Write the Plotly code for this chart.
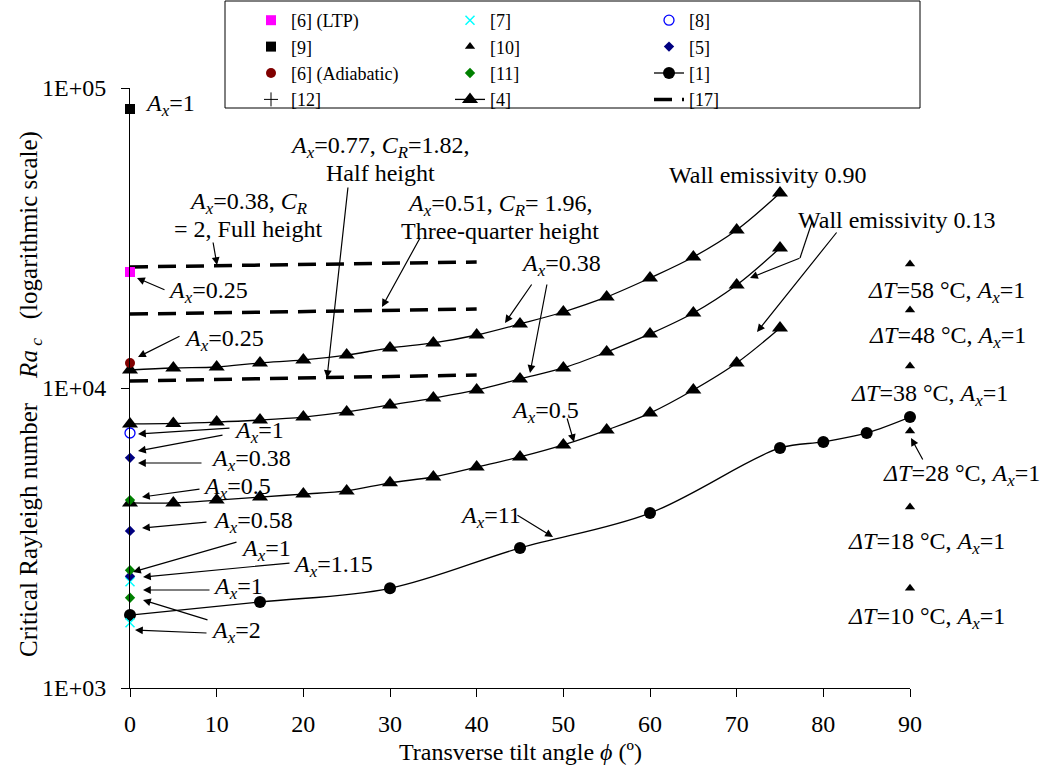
import plotly.graph_objects as go

# ---------------- data ----------------
angles_4 = [0, 5, 10, 15, 20, 25, 30, 35, 40, 45, 50, 55, 60, 65, 70, 75]
ra_4_eps090 = [11480, 11660, 11750, 12120, 12400, 12880, 13590, 14130, 15020, 16350,
               17920, 20110, 23260, 27330, 33630, 44670]
ra_4_eps013a = [7590, 7620, 7700, 7820, 8000, 8320, 8780, 9260, 9850, 10720,
                11660, 13180, 15140, 17780, 22050, 29290]
ra_4_eps013b = [4140, 4140, 4230, 4330, 4430, 4540, 4830, 5050, 5450, 5890,
                6460, 7240, 8250, 9850, 12120, 15850]

angles_1 = [0, 15, 30, 45, 60, 75, 80, 85, 90]
ra_1 = [1750, 1935, 2150, 2930, 3830, 6310, 6610, 7080, 8000]

angles_10 = [90, 90, 90, 90, 90, 90]
ra_10 = [25910, 18200, 11840, 7190, 4010, 2150]

ra_9 = [85110]
ra_6_ltp = [24360]
ra_6_adi = [12120]
ra_8 = [7080]
ra_5 = [5850, 3340, 2360]
ra_11 = [4230, 2470, 2000]
ra_7 = [2260, 1650]
ra_12 = [None]          # listed in the legend only, no visible point

angles_17 = [0, 40]
ra_17_full = [25320, 26300]
ra_17_threeq = [17640, 18330]
ra_17_half = [10550, 11050]

x_ticks = [0, 10, 20, 30, 40, 50, 60, 70, 80, 90]
y_ticks = [1000, 10000, 100000]
y_ticktext = ["1E+03", "1E+04", "1E+05"]

# ---------------- layout helpers ----------------
W, H = 1043, 775
ML, MR, MT, MB = 130, 133, 88, 87
PW, PH = W - ML - MR, H - MT - MB
FONT = "Liberation Serif"
FS = 24
FS_LEG = 18


def X(px):
    return (px - ML) / PW


def Y(py):
    return (H - MB - py) / PH


AX = "<i>A<sub>x</sub></i>"
CR = "<i>C<sub>R</sub></i>"

fig = go.Figure()

for i, ys in enumerate([ra_4_eps090, ra_4_eps013a, ra_4_eps013b]):
    fig.add_trace(go.Scatter(
        x=angles_4, y=ys, mode="lines+markers", name="[4]",
        line=dict(color="black", width=1.3, shape="spline"),
        marker=dict(symbol="triangle-up", size=14, color="black"),
        showlegend=(i == 0), legendrank=11, cliponaxis=False))

fig.add_trace(go.Scatter(
    x=angles_1, y=ra_1, mode="lines+markers", name="[1]",
    line=dict(color="black", width=1.3, shape="spline"),
    marker=dict(symbol="circle", size=12, color="black"),
    legendrank=9, cliponaxis=False))

for i, ys in enumerate([ra_17_full, ra_17_threeq, ra_17_half]):
    fig.add_trace(go.Scatter(
        x=angles_17, y=ys, mode="lines", name="[17]",
        line=dict(color="black", width=3.5, dash="18px,10px"),
        showlegend=(i == 0), legendrank=12, cliponaxis=False))


def zeros(vals):
    return [0] * len(vals)


point_series = [
    ("[6] (LTP)", ra_6_ltp, dict(symbol="square", size=10, color="#FF00FF"), 1),
    ("[7]", ra_7, dict(symbol="x-thin", size=9, color="#00FFFF",
                       line=dict(color="#00FFFF", width=1.5)), 2),
    ("[8]", ra_8, dict(symbol="circle-open", size=10, color="#0000FF",
                       line=dict(color="#0000FF", width=1.3)), 3),
    ("[9]", ra_9, dict(symbol="square", size=10, color="black"), 4),
    ("[5]", ra_5, dict(symbol="diamond", size=8, color="#000080"), 6),
    ("[6] (Adiabatic)", ra_6_adi, dict(symbol="circle", size=10, color="#800000"), 7),
    ("[11]", ra_11, dict(symbol="diamond", size=8, color="#008000"), 8),
    ("[12]", ra_12, dict(symbol="cross-thin", size=10, color="black",
                         line=dict(color="black", width=1)), 10),
]
for name, ys, mk, rank in point_series:
    fig.add_trace(go.Scatter(x=zeros(ys), y=ys, mode="markers", name=name,
                             marker=mk, legendrank=rank, cliponaxis=False))

fig.add_trace(go.Scatter(x=angles_10, y=ra_10, mode="markers", name="[10]",
                         marker=dict(symbol="triangle-up", size=9, color="black"),
                         legendrank=5, cliponaxis=False))

# ---------------- annotations ----------------
ann = []


def text(px, py, t, anchor="left"):
    ann.append(dict(xref="x domain", yref="y domain", x=X(px), y=Y(py), text=t,
                    showarrow=False, xanchor=anchor, yanchor="middle",
                    font=dict(family=FONT, size=FS, color="black")))


def arrow(tx, ty, hx, hy):
    ann.append(dict(xref="x domain", yref="y domain", x=X(hx), y=Y(hy), text="",
                    showarrow=True, axref="pixel", ayref="pixel",
                    ax=tx - hx, ay=ty - hy, arrowhead=2, arrowsize=1.3,
                    arrowwidth=1.2, arrowcolor="black", standoff=0,
                    startstandoff=0, font=dict(size=1), borderpad=0))


text(143, 105, AX + "=1")
text(380, 147, AX + "=0.77, " + CR + "=1.82,", "center")
text(380, 173, "Half height", "center")
text(248, 203, AX + "=0.38, " + CR, "center")
text(248, 229, "= 2, Full height", "center")
text(500, 205, AX + "=0.51, " + CR + "= 1.96,", "center")
text(500, 231, "Three-quarter height", "center")
text(166, 292, AX + "=0.25")
text(182, 340, AX + "=0.25")
text(519, 265, AX + "=0.38")
text(667, 175, "Wall emissivity 0.90")
text(796, 220, "Wall emissivity 0.13")
text(509, 412, AX + "=0.5")
text(458, 517, AX + "=11")
text(232, 432, AX + "=1")
text(209, 460, AX + "=0.38")
text(201, 488, AX + "=0.5")
text(211, 522, AX + "=0.58")
text(239, 550, AX + "=1")
text(291, 566, AX + "=1.15")
text(211, 588, AX + "=1")
text(209, 632, AX + "=2")
DT = "<i>ΔT</i>"
text(866, 292, DT + "=58 °C, " + AX + "=1")
text(867, 337, DT + "=48 °C, " + AX + "=1")
text(849, 395, DT + "=38 °C, " + AX + "=1")
text(881, 475, DT + "=28 °C, " + AX + "=1")
text(846, 543, DT + "=18 °C, " + AX + "=1")
text(846, 618, DT + "=10 °C, " + AX + "=1")

arrow(213, 242, 217, 265)
arrow(420, 238, 382, 307)
arrow(348, 187, 327, 378)
arrow(165, 290, 137, 278)
arrow(180, 336, 138, 357)
arrow(532, 284, 505, 323)
arrow(547, 284, 530, 373)
arrow(800, 258, 750, 278)
arrow(837, 232, 757, 332)
arrow(567, 418, 574, 442)
arrow(517, 515, 553, 537)
arrow(230, 428, 138, 434)
arrow(223, 435, 138, 451)
arrow(202, 463, 138, 463)
arrow(200, 489, 142, 497)
arrow(207, 522, 142, 528)
arrow(237, 542, 133, 572)
arrow(290, 563, 143, 577)
arrow(210, 590, 143, 590)
arrow(208, 620, 143, 600)
arrow(207, 633, 135, 630)
arrow(923, 460, 911, 438)

# axis titles
NB = "\u00a0"
ann.append(dict(xref="paper", yref="paper", x=X(30), y=Y(394), textangle=-90,
                text="Critical Rayleigh number" + NB * 4 + "<i>Ra</i><sub>" + NB
                     + "<i>c</i></sub>" + NB * 3 + "(logarithmic scale)",
                showarrow=False, xanchor="center", yanchor="middle",
                font=dict(family=FONT, size=25, color="black")))
ann.append(dict(xref="paper", yref="paper", x=X(520), y=Y(752),
                text="Transverse tilt angle <i>ϕ</i> (º)",
                showarrow=False, xanchor="center", yanchor="middle",
                font=dict(family=FONT, size=FS, color="black")))

shapes = [
    dict(type="line", xref="x domain", yref="y domain", x0=X(812), y0=Y(222),
         x1=X(800), y1=Y(258), line=dict(color="black", width=1.2)),
    dict(type="rect", xref="paper", yref="paper", x0=X(225), y0=Y(1),
         x1=X(920), y1=Y(108), line=dict(color="black", width=1),
         fillcolor="rgba(0,0,0,0)", layer="below"),
]

fig.update_layout(
    width=W, height=H,
    margin=dict(l=ML, r=MR, t=MT, b=MB, autoexpand=False),
    paper_bgcolor="white", plot_bgcolor="white",
    font=dict(family=FONT, size=FS, color="black"),
    annotations=ann, shapes=shapes,
    legend=dict(orientation="h", x=X(251), xanchor="left", y=Y(2), yanchor="top",
                entrywidth=154, entrywidthmode="pixels", bgcolor="rgba(0,0,0,0)",
                borderwidth=0, font=dict(family=FONT, size=FS_LEG, color="black"),
                traceorder="normal", itemclick=False),
    xaxis=dict(range=[0, 90], tickvals=x_ticks, showline=True, linecolor="black",
               linewidth=1, ticks="outside", ticklen=8, tickcolor="black",
               showgrid=False, zeroline=False, ticklabelstandoff=6,
               tickfont=dict(family=FONT, size=FS, color="black")),
    yaxis=dict(type="log", range=[3, 5], tickvals=y_ticks, ticktext=y_ticktext,
               showline=True, linecolor="black", linewidth=1, ticks="outside",
               ticklen=8, tickcolor="black", showgrid=False, zeroline=False,
               ticklabelstandoff=10,
               tickfont=dict(family=FONT, size=FS, color="black")),
)

fig.write_html("out.html")
